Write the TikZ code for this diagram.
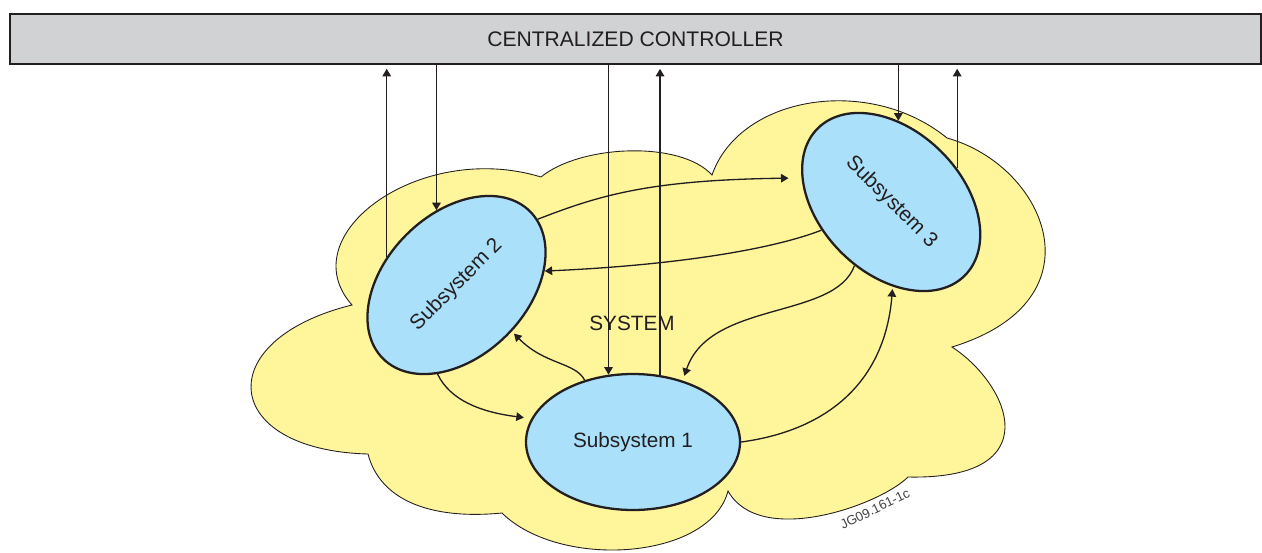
\documentclass[tikz,border=0pt]{standalone}
\usepackage{fontspec}
\setmainfont{Liberation Sans}
\usepackage{tikz}
\usetikzlibrary{shapes.geometric, arrows.meta, calc}

\definecolor{cloudyellow}{RGB}{255,245,155}
\definecolor{subblue}{RGB}{170,224,249}
\definecolor{ctrlgray}{RGB}{209,210,212}
\definecolor{inkgray}{RGB}{35,31,32}

\begin{document}
\begin{tikzpicture}[
    x=0.2mm, y=-0.2mm,
    font=\fontsize{11.8}{14}\selectfont,
    >={Triangle[length=1.5mm, width=1.7mm]},
    ctrlbox/.style={rectangle, draw=inkgray, line width=0.9pt, fill=ctrlgray, text=inkgray, minimum width=250.2mm, minimum height=10mm, inner sep=0pt},
    sub/.style={ellipse, draw=inkgray, line width=1.3pt, fill=subblue, text=inkgray, minimum width=41.6mm, minimum height=28.4mm, inner sep=0pt},
    cloud/.style={draw=inkgray, line width=0.5pt, fill=cloudyellow},
    link/.style={->, draw=inkgray, line width=0.75pt},
]
\useasboundingbox (0,0) rectangle (1262,552);

% Controller
\node[ctrlbox, font=\fontsize{12}{14}\selectfont] (ctrl) at (635.5,39) {CENTRALIZED CONTROLLER};

% System
\path[cloud] (352,305) .. controls (290,235) and (420,140) .. (541,177)
    .. controls (580,145) and (680,140) .. (712,175)
    .. controls (740,95) and (870,75) .. (947,138)
    .. controls (1045,165) and (1105,300) .. (952,347)
    .. controls (1010,385) and (1050,480) .. (908,477)
    .. controls (880,505) and (760,548) .. (728,491)
    .. controls (710,560) and (560,570) .. (502,513)
    .. controls (430,520) and (380,500) .. (368,454)
    .. controls (220,450) and (210,340) .. cycle;
\node[text=inkgray] (system) at (632,323) {SYSTEM};

% Subsystems
\node[sub, minimum width=42.8mm, minimum height=27.2mm] (sub1) at (633,442) {Subsystem 1};
\node[sub, rotate=45] (sub2) at (456.5,285) {Subsystem 2};
\node[sub, rotate=-45] (sub3) at (891.2,202) {Subsystem 3};

% Controller links
\draw[link, shorten >=0.8mm] (sub2.113) -- (sub2.113 |- ctrl.south);
\draw[link] (ctrl.south -| sub2.60) -- (sub2.60);
\draw[link] (ctrl.south -| sub1.110) -- (sub1.110);
\draw[link, shorten >=0.8mm] (sub1.68) -- (sub1.68 |- ctrl.south);
\draw[link] (ctrl.south -| sub3.130) -- (sub3.130);
\draw[link, shorten >=0.8mm] (sub3.72) -- (sub3.72 |- ctrl.south);

% Links between subsystems
\draw[link, shorten >=2.6mm] (sub2.-6) .. controls (600,195) and (650,180) .. (sub3.210);
\draw[link] (sub3.247) .. controls (765,252) and (660,266) .. (sub2.-36);
\draw[link, shorten >=1mm] (sub3.-75) .. controls (835,320) and (710,300) .. (sub1.51);
\draw[link, shorten >=0.5mm] (sub1.east) .. controls (830,430) and (885,380) .. (sub3.-44);
\draw[link, shorten >=0.6mm] (sub1.128) .. controls (575,362) and (545,365) .. (sub2.-85);
\draw[link, shorten >=1.5mm] (sub2.213) .. controls (450,400) and (480,412) .. (sub1.167);

% Drawing number
\node[font=\fontsize{7.5}{9}\selectfont, rotate=26, text=inkgray!85] (jobno) at (875,509) {JG09.161-1c};

\end{tikzpicture}
\end{document}
